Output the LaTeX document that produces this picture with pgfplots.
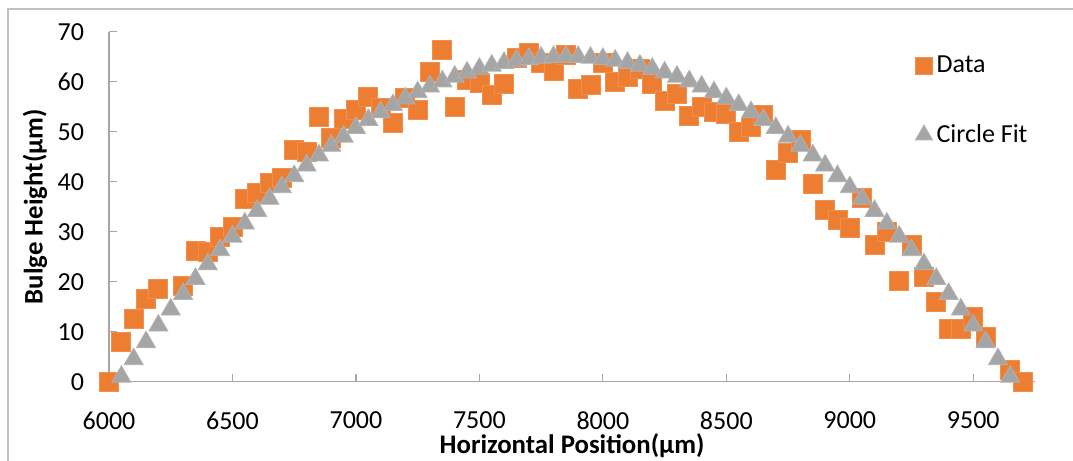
\documentclass[border=0pt]{standalone}
\usepackage{fontspec}
\setmainfont{Carlito}
\usepackage{pgfplots}
\pgfplotsset{compat=1.18}
\definecolor{dataorange}{HTML}{ED7D31}
\definecolor{fitgray}{HTML}{A5A5A5}
\definecolor{axisgray}{HTML}{A6A6A6}

\pgfplotstableread{
x y
6000 0
6050 7.9
6100 12.5
6150 16.5
6200 18.5
6300 19.2
6350 26.2
6400 26.0
6450 29.0
6500 31.0
6550 36.5
6600 37.7
6650 39.7
6700 40.7
6750 46.3
6800 46.0
6850 52.9
6900 48.7
6950 52.5
7000 54.3
7050 57.0
7100 54.7
7150 51.7
7200 56.7
7250 54.3
7300 62.0
7350 66.3
7400 55.0
7450 60.3
7500 59.8
7550 57.3
7600 59.6
7650 64.8
7700 65.8
7750 63.7
7800 62.2
7850 65.4
7900 58.6
7950 59.3
8000 63.7
8050 59.9
8100 61.0
8150 62.5
8200 59.5
8250 56.1
8300 57.5
8350 53.1
8400 55.0
8450 54.0
8500 53.5
8550 49.9
8600 50.9
8650 53.3
8700 42.4
8750 45.7
8800 48.3
8850 39.6
8900 34.3
8950 32.3
9000 30.8
9050 36.7
9100 27.3
9150 29.9
9200 20.2
9250 27.3
9300 20.9
9350 15.9
9400 10.6
9450 10.6
9500 12.9
9550 9.0
9650 2.4
9700 0
}\datatable

\pgfplotstableread{
x y
6050 1.00
6100 4.51
6150 7.92
6200 11.23
6250 14.44
6300 17.56
6350 20.57
6400 23.49
6450 26.30
6500 29.02
6550 31.64
6600 34.16
6650 36.58
6700 38.90
6750 41.12
6800 43.24
6850 45.26
6900 47.19
6950 49.02
7000 50.74
7050 52.37
7100 53.90
7150 55.33
7200 56.66
7250 57.90
7300 59.03
7350 60.07
7400 61.00
7450 61.84
7500 62.58
7550 63.22
7600 63.77
7650 64.21
7700 64.56
7750 64.80
7800 64.95
7850 65.00
7900 64.95
7950 64.80
8000 64.56
8050 64.21
8100 63.77
8150 63.22
8200 62.58
8250 61.84
8300 61.00
8350 60.07
8400 59.03
8450 57.90
8500 56.66
8550 55.33
8600 53.90
8650 52.37
8700 50.74
8750 49.02
8800 47.19
8850 45.26
8900 43.24
8950 41.12
9000 38.90
9050 36.58
9100 34.16
9150 31.64
9200 29.02
9250 26.30
9300 23.49
9350 20.57
9400 17.56
9450 14.44
9500 11.23
9550 7.92
9600 4.51
9650 1.00
}\fittable

\begin{document}
\begin{tikzpicture}
\useasboundingbox (0,0) rectangle (536.5bp,230.5bp);
% chart frame (cut at right and bottom, as in the reference)
\draw[axisgray!70, line width=0.6bp] (4bp,0) -- (4bp,226bp) -- (536.5bp,226bp);
\begin{axis}[
  scale only axis,
  width=463bp, height=175bp,
  at={(54.5bp,39.65bp)}, anchor=south west,
  xmin=6000, xmax=9750,
  ymin=0, ymax=70,
  xtick={6000,6500,...,9500},
  ytick={0,10,...,70},
  axis x line*=bottom, axis y line*=left,
  tick align=inside,
  major tick length=4bp,
  axis line style={draw=axisgray, line width=0.6bp},
  tick style={draw=axisgray, line width=0.6bp},
  /pgf/number format/assume math mode=true,
  /pgf/number format/set thousands separator={},
  ticklabel style={font=\fontsize{13bp}{15bp}\selectfont},
  xticklabel style={yshift=-11.5bp},
  yticklabel style={xshift=-9bp},
  xlabel={\textbf{Horizontal Position(µm)}},
  ylabel={\textbf{Bulge Height(µm)}},
  label style={font=\fontsize{13.4bp}{15bp}\selectfont},
  xlabel style={at={(axis description cs:0.5,-0.183)}, anchor=center},
  ylabel style={at={(axis description cs:-0.080,0.5)}, anchor=center},
  clip=false,
  legend image code/.code={\draw[mark repeat=2,mark phase=2,#1,every mark/.append style={scale=0.9}] plot coordinates {(0bp,0bp)(4bp,0bp)(8bp,0bp)};},
  legend style={at={(axis description cs:0.864,0.955)}, anchor=north west,
    draw=none, fill=none, row sep=20.5bp,
    font=\fontsize{13bp}{15bp}\selectfont},
  legend cell align=left,
]
\addplot[only marks, mark=square*, mark size=4.75bp,
  mark options={fill=dataorange, draw=dataorange!85!white, line width=0.4bp}]
  table[x=x,y=y] {\datatable};
\addlegendentry{Data}
\addplot[only marks, mark=triangle*, mark size=5.5bp,
  mark options={fill=fitgray, draw=fitgray!85!white, line width=0.4bp}]
  table[x=x,y=y] {\fittable};
\addlegendentry{Circle Fit}
\end{axis}
\end{tikzpicture}
\end{document}
